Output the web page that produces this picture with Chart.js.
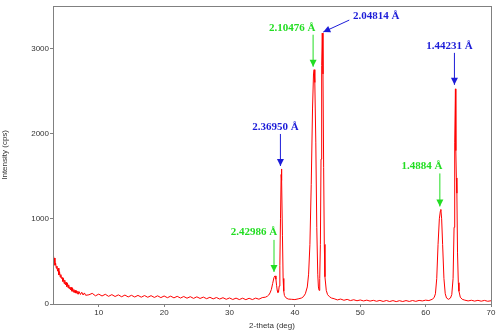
<!DOCTYPE html>
<html>
<head>
<meta charset="utf-8">
<script src="https://cdn.jsdelivr.net/npm/chart.js@4/dist/chart.umd.min.js"></script>
<style>
  html, body { margin: 0; padding: 0; background: #fff; }
  #wrap { width: 500px; height: 333px; }
</style>
</head>
<body>
<div id="wrap"><canvas id="grafico"></canvas></div>
<script>
const doisTheta = [
  3.0, 3.1, 3.2, 3.3, 3.4, 3.5, 3.6, 3.7, 3.8, 3.9, 4.0, 4.1, 4.2, 4.3, 4.4, 4.5, 4.6, 4.7, 4.8, 4.9,
  5.0, 5.1, 5.2, 5.3, 5.4, 5.5, 5.6, 5.7, 5.8, 5.9, 6.0, 6.1, 6.2, 6.3, 6.4, 6.5, 6.6, 6.7, 6.8, 6.9,
  7.0, 7.2, 7.4, 7.6, 7.8, 8.0, 8.5, 9.0, 9.5, 10.0, 10.5, 11.0, 11.5, 12.0, 12.5, 13.0, 13.5, 14.0,
  14.5, 15.0, 15.5, 16.0, 16.5, 17.0, 17.5, 18.0, 18.5, 19.0, 19.5, 20.0, 20.5, 21.0, 21.5, 22.0,
  22.5, 23.0, 23.5, 24.0, 24.5, 25.0, 25.5, 26.0, 26.5, 27.0, 27.5, 28.0, 28.5, 29.0, 29.5, 30.0,
  30.5, 31.0, 31.5, 32.0, 32.5, 33.0, 33.5, 34.0, 34.5, 35.0, 35.5, 35.8, 36.0, 36.2, 36.4, 36.6,
  36.8, 36.96, 37.1, 37.2, 37.3, 37.4, 37.5, 37.6, 37.7, 37.8, 37.9, 37.94, 38.0, 38.1, 38.2, 38.3,
  38.4, 38.6, 38.8, 39.0, 39.5, 40.0, 40.5, 41.0, 41.3, 41.6, 41.9, 42.1, 42.3, 42.5, 42.7, 42.85,
  42.94, 43.05, 43.2, 43.35, 43.5, 43.6, 43.7, 43.8, 43.9, 44.0, 44.1, 44.19, 44.3, 44.4, 44.5, 44.6,
  44.8, 45.0, 45.3, 45.6, 46.0, 46.5, 47.0, 47.5, 48.0, 48.5, 49.0, 49.5, 50.0, 50.5, 51.0, 51.5,
  52.0, 52.5, 53.0, 53.5, 54.0, 54.5, 55.0, 55.5, 56.0, 56.5, 57.0, 57.5, 58.0, 58.5, 59.0, 59.5,
  60.0, 60.5, 61.0, 61.3, 61.5, 61.7, 61.9, 62.1, 62.25, 62.33, 62.45, 62.6, 62.8, 63.0, 63.2, 63.5,
  63.8, 64.0, 64.2, 64.35, 64.45, 64.56, 64.62, 64.7, 64.78, 64.88, 65.0, 65.1, 65.3, 65.6, 66.0,
  66.5, 67.0, 67.5, 68.0, 68.5, 69.0, 69.5, 70.0
];
const intensidade = [
  555, 490, 540, 455, 480, 420, 445, 385, 420, 340, 380, 315, 345, 300, 310, 265, 300, 240, 280, 225,
  255, 205, 245, 190, 225, 180, 200, 165, 195, 150, 185, 140, 170, 135, 160, 128, 155, 120, 150, 115,
  145, 112, 138, 106, 130, 102, 108, 125, 96, 116, 94, 114, 90, 110, 88, 107, 85, 105,
  83, 102, 82, 101, 80, 99, 79, 98, 77, 96, 75, 94, 74, 92, 72, 90,
  70, 88, 68, 86, 66, 84, 65, 81, 62, 79, 60, 76, 58, 74, 55, 71,
  53, 69, 52, 68, 51, 67, 52, 69, 56, 75, 80, 92, 105, 130, 170, 240,
  310, 330, 290, 220, 160, 135, 140, 210, 450, 1000, 1520, 1585, 1450, 800, 300, 150,
  100, 75, 65, 58, 55, 52, 60, 70, 85, 120, 200, 350, 700, 1400, 2300, 2700,
  2750, 2600, 1900, 900, 350, 200, 160, 300, 700, 1700, 2800, 3180, 2700, 1600, 700, 320,
  160, 110, 85, 70, 62, 48, 58, 44, 54, 40, 50, 38, 47, 36, 45, 34,
  43, 32, 42, 30, 41, 29, 40, 28, 39, 29, 40, 30, 41, 31, 42, 36,
  45, 40, 55, 75, 120, 300, 700, 1000, 1090, 1110, 1000, 700, 300, 120, 70, 55,
  70, 110, 300, 900, 1900, 2525, 1800, 1480, 1300, 600, 250, 150, 80, 55, 45,
  36, 44, 34, 43, 33, 42, 32, 38
];
const xTicks = [10, 20, 30, 40, 50, 60, 70];
const yTicks = [0, 1000, 2000, 3000];

// picos indexados
const picoTheta = [36.96, 37.94, 42.94, 44.19, 62.33, 64.56];
const picoAltura = [330, 1585, 2750, 3180, 1110, 2525];
const picoRotulo = ['2.42986 Å', '2.36950 Å', '2.10476 Å', '2.04814 Å', '1.4884 Å', '1.44231 Å'];

// estilo das setas (deslocamentos em px a partir do topo do pico)
const verde = '#22dd22';
const azul = '#1c1cd8';
const estiloSeta = [
  { cor: verde, cauda: [-1, -36], ponta: [-1, -4], texto: [-21, -44] },
  { cor: azul,  cauda: [-1, -35], ponta: [-1, -3], texto: [-6, -42] },
  { cor: verde, cauda: [-1, -35], ponta: [-1, -3], texto: [-22, -42] },
  { cor: azul,  cauda: [27, -13], ponta: [1, -1],  texto: [54, -17] },
  { cor: verde, cauda: [-1, -36], ponta: [-1, -3], texto: [-19, -43] },
  { cor: azul,  cauda: [-1, -36], ponta: [-1, -4], texto: [-6, -43] }
];

const pontos = doisTheta.map((t, i) => ({ x: t, y: intensidade[i] }));

const setas = {
  id: 'setas',
  afterDatasetsDraw(chart) {
    const ctx = chart.ctx;
    const sx = chart.scales.x, sy = chart.scales.y;
    ctx.save();
    picoTheta.forEach((t, i) => {
      const px = sx.getPixelForValue(t);
      const py = sy.getPixelForValue(picoAltura[i]);
      const e = estiloSeta[i];
      const x0 = px + e.cauda[0], y0 = py + e.cauda[1];
      const x1 = px + e.ponta[0], y1 = py + e.ponta[1];
      ctx.strokeStyle = e.cor;
      ctx.fillStyle = e.cor;
      ctx.lineWidth = 1;
      ctx.beginPath();
      ctx.moveTo(x0, y0);
      ctx.lineTo(x1, y1);
      ctx.stroke();
      // ponta da seta
      const ang = Math.atan2(y1 - y0, x1 - x0);
      const tam = 7, larg = 3.5;
      ctx.beginPath();
      ctx.moveTo(x1, y1);
      ctx.lineTo(x1 - tam * Math.cos(ang) + larg * Math.sin(ang), y1 - tam * Math.sin(ang) - larg * Math.cos(ang));
      ctx.lineTo(x1 - tam * Math.cos(ang) - larg * Math.sin(ang), y1 - tam * Math.sin(ang) + larg * Math.cos(ang));
      ctx.closePath();
      ctx.fill();
      ctx.font = 'bold 11px "Liberation Serif", "Times New Roman", serif';
      ctx.textAlign = 'center';
      ctx.textBaseline = 'middle';
      ctx.fillText(picoRotulo[i], px + e.texto[0], py + e.texto[1]);
    });
    ctx.restore();
  }
};

const moldura = {
  id: 'moldura',
  afterDraw(chart) {
    const a = chart.chartArea;
    const ctx = chart.ctx;
    ctx.save();
    ctx.strokeStyle = '#808080';
    ctx.lineWidth = 1;
    ctx.strokeRect(Math.round(a.left) + 0.5, Math.round(a.top) + 0.5,
      Math.round(a.right - a.left), Math.round(a.bottom - a.top));
    ctx.restore();
  }
};

Chart.defaults.font.family = '"Liberation Sans", Arial, sans-serif';
Chart.defaults.font.size = 8;
Chart.defaults.color = '#333';

new Chart(document.getElementById('grafico').getContext('2d'), {
  type: 'line',
  data: {
    datasets: [{
      data: pontos,
      borderColor: '#ff0000',
      borderWidth: 1,
      pointRadius: 0,
      tension: 0,
      fill: false
    }]
  },
  options: {
    responsive: true,
    maintainAspectRatio: false,
    animation: false,
    layout: { padding: { top: 4, right: 9, left: 0, bottom: 0 } },
    plugins: {
      legend: { display: false },
      tooltip: { enabled: false }
    },
    scales: {
      x: {
        type: 'linear',
        min: 3,
        max: 70,
        afterBuildTicks: s => { s.ticks = xTicks.map(v => ({ value: v })); },
        afterFit: s => { s.height = 29; },
        grid: { drawOnChartArea: false, tickLength: 3, color: '#808080' },
        border: { display: false },
        ticks: { padding: 1, maxRotation: 0, color: '#333', callback: v => String(v) },
        title: { display: true, text: '2-theta (deg)', padding: { top: 1, bottom: 2 }, color: '#333' }
      },
      y: {
        min: 0,
        max: 3500,
        afterBuildTicks: s => { s.ticks = yTicks.map(v => ({ value: v })); },
        afterFit: s => { s.width = 53; },
        grid: { drawOnChartArea: false, tickLength: 3, color: '#808080' },
        border: { display: false },
        ticks: { padding: 1, color: '#333', callback: v => String(v) },
        title: { display: true, text: 'Intensity (cps)', padding: { top: 0, bottom: 0 }, color: '#333' }
      }
    }
  },
  plugins: [setas, moldura]
});
</script>
</body>
</html>
